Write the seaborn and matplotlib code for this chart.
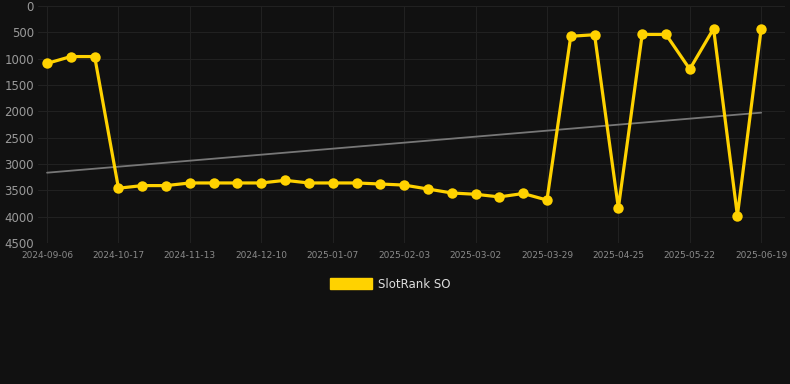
import matplotlib
matplotlib.use("Agg")
import matplotlib.pyplot as plt
import seaborn as sns
import numpy as np
import pandas as pd
from matplotlib.patches import Patch

# dates (category axis, only every third one is labelled)
dates = ["2024-09-06", "2024-09-20", "2024-10-04", "2024-10-17", "2024-10-26",
         "2024-11-04", "2024-11-13", "2024-11-22", "2024-12-01", "2024-12-10",
         "2024-12-19", "2024-12-28", "2025-01-07", "2025-01-16", "2025-01-25",
         "2025-02-03", "2025-02-12", "2025-02-21", "2025-03-02", "2025-03-11",
         "2025-03-20", "2025-03-29", "2025-04-07", "2025-04-16", "2025-04-25",
         "2025-05-04", "2025-05-13", "2025-05-22", "2025-05-31", "2025-06-10",
         "2025-06-19"]
rank = [1090, 960, 960, 3460, 3410, 3410, 3360, 3360, 3360, 3360,
        3310, 3360, 3360, 3360, 3380, 3400, 3475, 3550, 3575, 3625,
        3560, 3685, 575, 545, 3835, 540, 540, 1200, 430, 3980, 430]

df = pd.DataFrame({"date": dates, "rank": rank})
df["idx"] = range(len(df))

bg = "#111111"
gold = "#FFD200"

sns.set_style("dark")
plt.rcParams["font.family"] = ["DejaVu Sans"]

fig = plt.figure(figsize=(7.9, 3.84), dpi=100, facecolor=bg)
ax = fig.add_axes([38 / 790, 1 - 243 / 384, (785 - 38) / 790, (243 - 6) / 384])
ax.set_facecolor(bg)

# trend line
coef = np.polyfit(df["idx"], df["rank"], 1)
trend = np.polyval(coef, df["idx"])
ax.plot(df["idx"], trend, color="#777777", lw=1.3, zorder=2)

sns.lineplot(data=df, x="idx", y="rank", ax=ax, color=gold, lw=2.3,
             marker="o", markersize=7.5, markeredgewidth=0, zorder=3,
             legend=False)

ax.set_ylim(4500, 0)
ax.set_xlim(-0.38, 31.0)
ax.set_yticks(range(0, 4501, 500))
ax.set_xticks(df["idx"][::3])
ax.set_xticklabels(df["date"][::3])
ax.grid(True, color="#212121", lw=0.8)
ax.tick_params(axis="y", colors="#9a9a9a", labelsize=8.5, length=0, pad=3)
ax.tick_params(axis="x", colors="#8a8a8a", labelsize=6.5, length=0, pad=6)
for s in ax.spines.values():
    s.set_visible(False)
ax.set_xlabel("")
ax.set_ylabel("")

leg = fig.legend(handles=[Patch(facecolor=gold, edgecolor=gold, label="SlotRank SO")],
                 loc="center", bbox_to_anchor=(390 / 790, 1 - 284 / 384),
                 frameon=False, fontsize=8.5, handlelength=3.6, handleheight=1.0,
                 handletextpad=0.5)
for t in leg.get_texts():
    t.set_color("#dddddd")

fig.savefig("out.png", dpi=100, facecolor=bg)
